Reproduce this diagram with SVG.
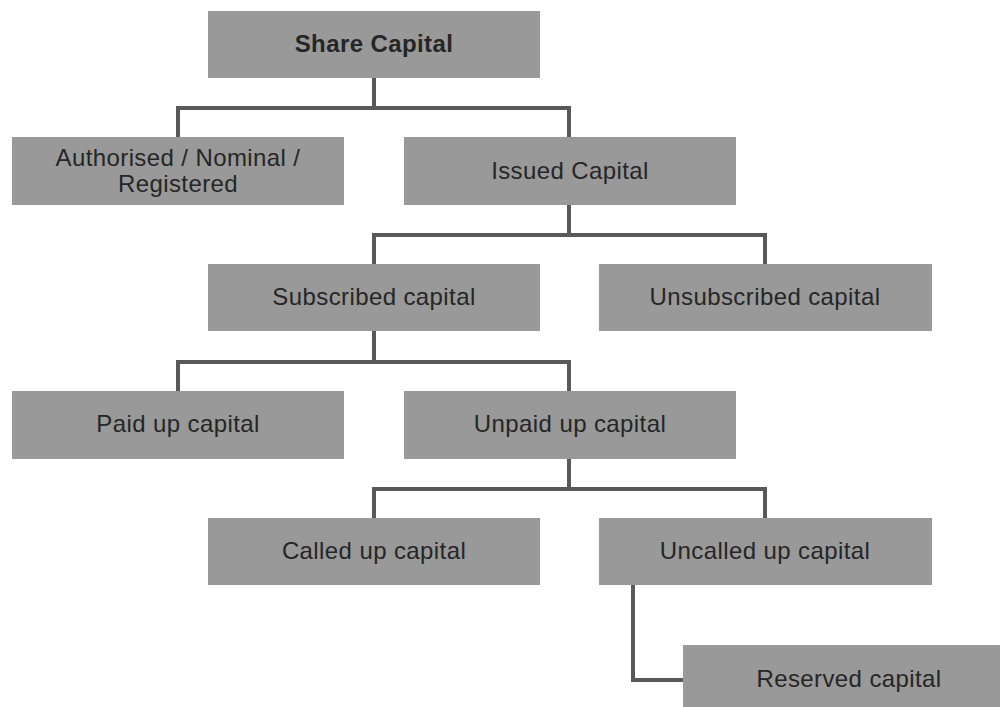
<svg xmlns="http://www.w3.org/2000/svg" width="1000" height="707" viewBox="0 0 1000 707">
  <style>
    .box { fill: #999999; }
    .lbl { font-family: "Liberation Sans", Arial, sans-serif; font-size: 24px; letter-spacing: 0.4px; fill: #262626; text-anchor: middle; }
    .bold { font-weight: bold; }
    .conn { fill: none; stroke: #595959; stroke-width: 4; stroke-linejoin: miter; }
  </style>
  <rect width="1000" height="707" fill="#ffffff"/>

  <!-- connectors -->
  <g id="connectors" class="conn">
    <path d="M374 78 V108 M178 137 V108 H569 V137"/>
    <path d="M569 205 V235 M374 264 V235 H765 V264"/>
    <path d="M374 331 V362 M178 391 V362 H569 V391"/>
    <path d="M569 459 V489 M374 518 V489 H765 V518"/>
    <path d="M633 585 V680 H683"/>
  </g>

  <g id="share-capital">
    <rect class="box" x="208" y="11" width="332" height="67"/>
    <text class="lbl bold" x="374" y="52">Share Capital</text>
  </g>
  <g id="authorised">
    <rect class="box" x="12" y="137" width="332" height="68"/>
    <text class="lbl" x="178" y="166">Authorised / Nominal /</text>
    <text class="lbl" x="178" y="192">Registered</text>
  </g>
  <g id="issued">
    <rect class="box" x="404" y="137" width="332" height="68"/>
    <text class="lbl" x="570" y="179">Issued Capital</text>
  </g>
  <g id="subscribed">
    <rect class="box" x="208" y="264" width="332" height="67"/>
    <text class="lbl" x="374" y="305">Subscribed capital</text>
  </g>
  <g id="unsubscribed">
    <rect class="box" x="599" y="264" width="333" height="67"/>
    <text class="lbl" x="765" y="305">Unsubscribed capital</text>
  </g>
  <g id="paid-up">
    <rect class="box" x="12" y="391" width="332" height="68"/>
    <text class="lbl" x="178" y="432">Paid up capital</text>
  </g>
  <g id="unpaid-up">
    <rect class="box" x="404" y="391" width="332" height="68"/>
    <text class="lbl" x="570" y="432">Unpaid up capital</text>
  </g>
  <g id="called-up">
    <rect class="box" x="208" y="518" width="332" height="67"/>
    <text class="lbl" x="374" y="559">Called up capital</text>
  </g>
  <g id="uncalled-up">
    <rect class="box" x="599" y="518" width="333" height="67"/>
    <text class="lbl" x="765" y="559">Uncalled up capital</text>
  </g>
  <g id="reserved">
    <rect class="box" x="683" y="645" width="332" height="67"/>
    <text class="lbl" x="849" y="687">Reserved capital</text>
  </g>
</svg>
